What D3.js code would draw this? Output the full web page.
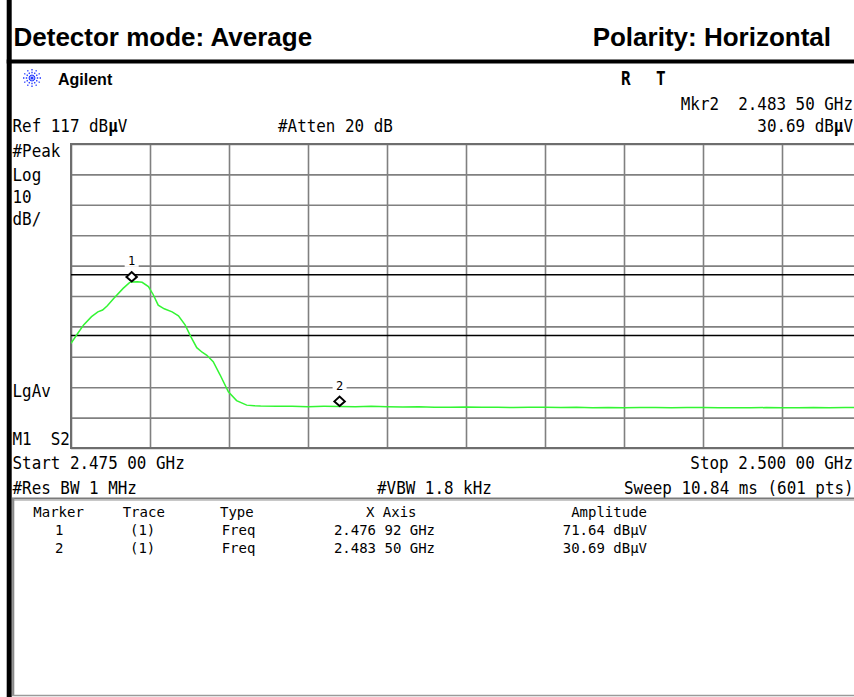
<!DOCTYPE html>
<html>
<head>
<meta charset="utf-8">
<script src="https://cdn.jsdelivr.net/npm/d3@7/dist/d3.min.js"></script>
<style>
body { margin: 0; background: #fff; }
svg { display: block; }
text { white-space: pre; }
</style>
</head>
<body>
<div id="chart"></div>
<script>
// sweep settings (MHz / dBuV)
let startMHz = 2475, stopMHz = 2500;
let refLevel = 117, dbPerDiv = 10, nDiv = 10;

// limit lines shown on the screen (dBuV)
let limitLines = [74, 54];

// trace (MHz, dBuV)
let traceFreq = [2475.00, 2475.20, 2475.40, 2475.65, 2475.85, 2476.00, 2476.15, 2476.35, 2476.65, 2476.85,
  2476.92, 2477.10, 2477.25, 2477.45, 2477.60, 2477.76, 2477.95, 2478.20, 2478.40, 2478.61,
  2478.80, 2478.98, 2479.15, 2479.30, 2479.50, 2479.72, 2479.98, 2480.24, 2480.56, 2480.80,
  2481.0, 2481.5, 2482.0, 2482.5, 2483.0, 2483.5, 2484.0, 2484.5, 2485.0, 2485.5,
  2486.0, 2486.5, 2487.0, 2487.5, 2488.0, 2488.5, 2489.0, 2489.5, 2490.0, 2490.5,
  2491.0, 2491.5, 2492.0, 2492.5, 2493.0, 2493.5, 2494.0, 2494.5, 2495.0, 2495.5,
  2496.0, 2496.5, 2497.0, 2497.5, 2498.0, 2498.5, 2499.0, 2499.5, 2500.0];
let traceLevel = [51.4, 54.5, 57.5, 60.2, 61.8, 62.4, 63.8, 66.2, 69.5, 71.4,
  71.64, 71.7, 71.5, 70.1, 67.5, 64.0, 62.8, 61.8, 60.5, 57.5,
  53.5, 50.0, 48.5, 47.5, 45.4, 41.0, 35.5, 32.6, 31.1, 30.9,
  30.8, 30.7, 30.7, 30.6, 30.7, 30.69, 30.6, 30.7, 30.6, 30.5,
  30.6, 30.4, 30.4, 30.5, 30.4, 30.4, 30.3, 30.4, 30.4, 30.3,
  30.4, 30.2, 30.3, 30.2, 30.3, 30.3, 30.2, 30.3, 30.3, 30.2,
  30.2, 30.2, 30.3, 30.2, 30.2, 30.3, 30.2, 30.3, 30.3];

// markers
let markerIds = [1, 2];
let markerFreq = [2.47692, 2.48350];   // GHz
let markerAmp = [71.64, 30.69];        // dBuV

// header / footer texts
let titleLeft = "Detector mode: Average";
let titleRight = "Polarity: Horizontal";
let sideLabels = ["#Peak", "Log", "10", "dB/"];
let tableHeads = ["Marker", "Trace", "Type", "X Axis", "Amplitude"];

let width = 854, height = 697;
let mono = "'DejaVu Sans Mono', 'Liberation Mono', monospace";
let sans = "'Liberation Sans', Arial, sans-serif";

let svg = d3.select("#chart").append("svg")
  .attr("width", width)
  .attr("height", height);

svg.append("rect").attr("width", width).attr("height", height).attr("fill", "#fff");

// ghz -> "2.476 92"
let ghz = v => { let s = d3.format(".5f")(v); return s.slice(0, 5) + " " + s.slice(5); };

// write a line of screen text, μ optionally bold
function say(x, y, str, o = {}) {
  let t = svg.append("text")
    .attr("transform", `translate(${x},${y}) scale(1,${o.sy ?? 1.1})`)
    .attr("font-family", o.font || mono)
    .attr("font-size", o.size || 15.9)
    .attr("font-weight", o.weight || "normal")
    .attr("text-anchor", o.anchor || "start")
    .attr("fill", o.fill || "#000");
  str.split(/(μ)/).forEach(p => {
    if (!p) return;
    t.append("tspan").attr("font-weight", p == "μ" && o.boldMu ? "bold" : null).text(p);
  });
  return t;
}

// frame: black bar on the left and under the title
svg.append("rect").attr("x", 6.7).attr("y", 0).attr("width", 5).attr("height", height).attr("fill", "#000");
svg.append("rect").attr("x", 6.7).attr("y", 59.5).attr("width", width).attr("height", 4).attr("fill", "#000");

say(13.5, 46, titleLeft, {font: sans, size: 26, weight: "bold", sy: 1});
say(831, 46, titleRight, {font: sans, size: 26, weight: "bold", sy: 1, anchor: "end"});

// Agilent spark
let logo = svg.append("g").attr("transform", "translate(32,78)");
d3.range(12).forEach(i => {
  let a = i * Math.PI / 6;
  logo.append("line")
    .attr("x1", Math.cos(a) * 2).attr("y1", Math.sin(a) * 2)
    .attr("x2", Math.cos(a) * 10).attr("y2", Math.sin(a) * 10)
    .attr("stroke", "#1f35ff").attr("stroke-width", 1.3)
    .attr("stroke-dasharray", "1.4,1.4");
});
logo.append("circle").attr("r", 1.6).attr("fill", "#1f35ff");
say(58, 84.5, "Agilent", {font: sans, size: 16, weight: "bold", sy: 1});
say(621, 85, "R", {size: 16, weight: "bold", sy: 1.25});
say(656, 85, "T", {size: 16, weight: "bold", sy: 1.25});

// header lines
say(853, 110, "Mkr2  " + ghz(markerFreq[1]) + " GHz", {anchor: "end"});
say(853, 132, d3.format(".2f")(markerAmp[1]) + " dBμV", {anchor: "end", boldMu: true});
say(12.5, 132, "Ref " + refLevel + " dBμV", {boldMu: true});
say(278, 132, "#Atten 20 dB");

// plot area
let x = d3.scaleLinear().domain([startMHz, stopMHz]).range([71, 861]);
let y = d3.scaleLinear().domain([refLevel - dbPerDiv * nDiv, refLevel]).range([448, 144]);

let xTicks = d3.range(nDiv + 1).map(i => startMHz + i * (stopMHz - startMHz) / nDiv);
let yTicks = d3.range(nDiv + 1).map(i => refLevel - i * dbPerDiv);

let gx = svg.append("g").attr("transform", "translate(0,448)")
  .call(d3.axisBottom(x).tickValues(xTicks).tickSize(-(448 - 144)).tickFormat(""));
let gy = svg.append("g").attr("transform", "translate(71,0)")
  .call(d3.axisLeft(y).tickValues(yTicks).tickSize(-(861 - 71)).tickFormat(""));
[gx, gy].forEach(g => {
  g.select(".domain").remove();
  g.selectAll(".tick line").attr("stroke", "#808080").attr("stroke-width", 1.6);
});
svg.append("rect").attr("x", 71).attr("y", 144).attr("width", 790).attr("height", 304)
  .attr("fill", "none").attr("stroke", "#6e6e6e").attr("stroke-width", 2);

// limit lines
svg.selectAll(".limit").data(limitLines).enter().append("line")
  .attr("class", "limit")
  .attr("x1", 71).attr("x2", 861)
  .attr("y1", d => y(d)).attr("y2", d => y(d))
  .attr("stroke", "#000").attr("stroke-width", 1.4);

svg.append("clipPath").attr("id", "plotclip")
  .append("rect").attr("x", 71).attr("y", 144).attr("width", 790).attr("height", 304);

let line = d3.line().x(d => x(d[0])).y(d => y(d[1]));
svg.append("path")
  .datum(d3.zip(traceFreq, traceLevel))
  .attr("clip-path", "url(#plotclip)")
  .attr("d", line)
  .attr("fill", "none")
  .attr("stroke", "#33f533")
  .attr("stroke-width", 1.5);

// markers: diamond sitting on the trace, number above
let mk = svg.selectAll(".mk").data(markerIds).enter().append("g")
  .attr("class", "mk")
  .attr("transform", (d, i) => `translate(${x(markerFreq[i] * 1000)},${y(markerAmp[i])})`);
mk.append("rect").attr("x", -7).attr("y", -28).attr("width", 14).attr("height", 13).attr("fill", "#fff");
mk.append("text")
  .attr("y", -16.5)
  .attr("text-anchor", "middle")
  .attr("font-family", mono)
  .attr("font-size", 12)
  .text(d => d);
mk.append("path")
  .attr("d", "M0,-0.5 L5.2,-5 L0,-9.8 L-5.2,-5 Z")
  .attr("fill", "#fff").attr("stroke", "#000").attr("stroke-width", 2);

// side labels
sideLabels.forEach((s, i) => say(12.5, [157, 181, 203, 225][i], s));
say(12.5, 397, "LgAv");
say(12.5, 445, "M1  S2");

// footer
say(12.5, 468.5, "Start " + ghz(startMHz / 1000) + " GHz");
say(853, 468.5, "Stop " + ghz(stopMHz / 1000) + " GHz", {anchor: "end"});
say(12.5, 493.5, "#Res BW 1 MHz");
say(377, 493.5, "#VBW 1.8 kHz");
say(624, 493.5, "Sweep 10.84 ms (601 pts)");

// marker table box
svg.append("line").attr("x1", 12).attr("x2", width).attr("y1", 498.5).attr("y2", 498.5)
  .attr("stroke", "#7a7a7a").attr("stroke-width", 2);
svg.append("line").attr("x1", 12).attr("x2", width).attr("y1", 500.5).attr("y2", 500.5)
  .attr("stroke", "#c8c8c8").attr("stroke-width", 1);
svg.append("line").attr("x1", 13.2).attr("x2", 13.2).attr("y1", 498).attr("y2", 696)
  .attr("stroke", "#8a8a8a").attr("stroke-width", 2.2);
svg.append("line").attr("x1", 12).attr("x2", width).attr("y1", 695.5).attr("y2", 695.5)
  .attr("stroke", "#9a9a9a").attr("stroke-width", 1.5);

let tbl = {size: 14, sy: 1.05};
say(33.3, 516.7, tableHeads[0], tbl);
say(122.7, 516.7, tableHeads[1], tbl);
say(220, 516.7, tableHeads[2], tbl);
say(366, 516.7, tableHeads[3], tbl);
say(647, 516.7, tableHeads[4], Object.assign({anchor: "end"}, tbl));
markerIds.forEach((m, i) => {
  let yy = 535 + i * 17.7;
  say(55, yy, String(m), tbl);
  say(130, yy, "(1)", tbl);
  say(221.7, yy, "Freq", tbl);
  say(435, yy, ghz(markerFreq[i]) + " GHz", Object.assign({anchor: "end"}, tbl));
  say(647, yy, d3.format(".2f")(markerAmp[i]) + " dBμV", Object.assign({anchor: "end"}, tbl));
});
</script>
</body>
</html>
